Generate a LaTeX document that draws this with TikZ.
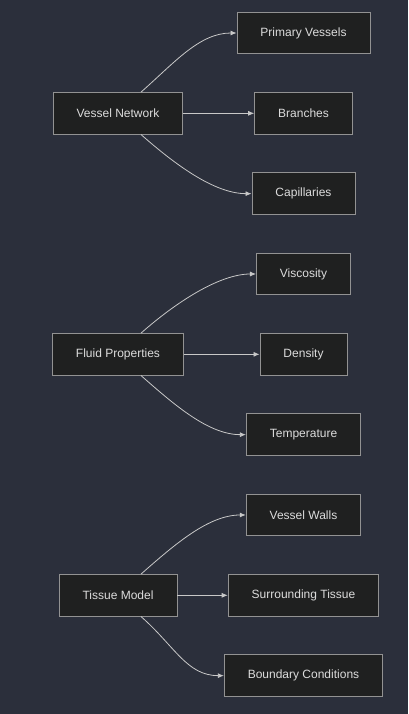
\documentclass[tikz,border=0pt]{standalone}
\usepackage{fontspec}
\setmainfont{Liberation Sans}
\usepackage{tikz}
\usetikzlibrary{arrows.meta}
\usetikzlibrary{positioning}
\definecolor{canvas}{HTML}{2B2F3B}
\definecolor{boxfill}{HTML}{1F2020}
\definecolor{boxline}{HTML}{929292}
\definecolor{boxtext}{HTML}{DCDCDC}
\definecolor{edgeline}{HTML}{C8C8C8}
\tikzset{
    box/.style = {draw=boxline,fill=boxfill,text=boxtext,line width=0.9pt,inner xsep=23.5pt,inner ysep=0pt,minimum height=41.5pt,font=\fontsize{12}{14}\selectfont},
    flow/.style = {draw=edgeline,line width=0.8pt,-{Latex[length=6pt,width=5pt]}}
}

\begin{document}
\begin{tikzpicture}[x=1pt,y=-1pt]
        \newcommand*\hsep{185.5}
        \newcommand*\vsep{80.33}
        \fill[canvas,use as bounding box] (0,0) rectangle (408,714);
        % Groups
        \path (118,113.33) node[box] (net) {Vessel Network}
            to +(0,3*\vsep) node[box] (fluid) {Fluid Properties}
            to +(0,6*\vsep) node[box] (tissue) {Tissue Model}
        ;
        % Parts
        \path (net)
            to +(\hsep,-\vsep) node[box] (prim) {Primary Vessels}
            to +(\hsep,0) node[box] (branch) {Branches}
            to +(\hsep,\vsep) node[box] (cap) {Capillaries}
        ;
        \path (fluid)
            to +(\hsep,-\vsep) node[box] (visc) {Viscosity}
            to +(\hsep,0) node[box] (dens) {Density}
            to +(\hsep,\vsep) node[box] (temp) {Temperature}
        ;
        \path (tissue)
            to +(\hsep,-\vsep) node[box] (walls) {Vessel Walls}
            to +(\hsep,0) node[box] (surr) {Surrounding Tissue}
            to +(\hsep,\vsep) node[box] (bound) {Boundary Conditions}
        ;
        % Links
        \foreach \src/\up/\mid/\down in {net/prim/branch/cap,fluid/visc/dens/temp,tissue/walls/surr/bound}
        {
            \draw[flow] (\src) to (\mid);
            \draw[flow] ([xshift=23pt]\src.north) .. controls +(34,-30) and +(-37,0) .. (\up.west);
            \draw[flow] ([xshift=23pt]\src.south) .. controls +(34,30) and +(-37,0) .. (\down.west);
        }
    \end{tikzpicture}
\end{document}
